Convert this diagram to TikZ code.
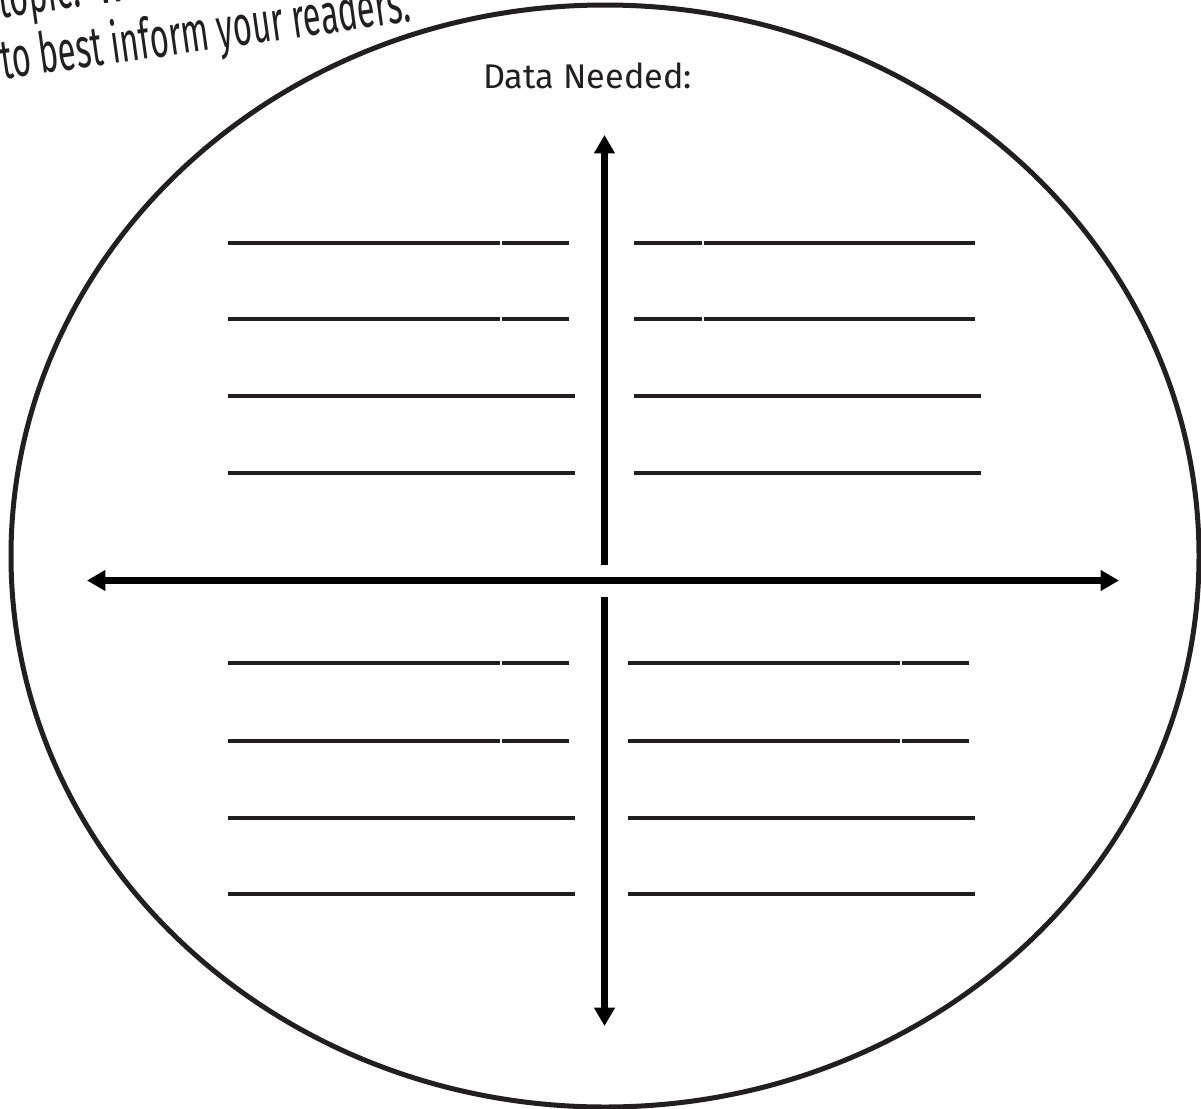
\documentclass[tikz,border=0pt]{standalone}
\usepackage{fontspec}
\setmainfont{Fira Sans}
\newfontfamily\handfont[FakeStretch=0.58]{Fira Sans}
\usetikzlibrary{arrows.meta}
\definecolor{ink}{HTML}{231F20}

\begin{document}
\begin{tikzpicture}[x=0.02cm,y=-0.02cm,
    >={Triangle[length=0.37cm,width=0.4cm]},
    axis/.style={line width=0.14cm},
    rule/.style={ink,line width=0.08cm},
    hint/.style={anchor=base west,rotate=8,text=ink,
      font=\handfont\fontsize{32}{40}\selectfont}]
  \useasboundingbox (0,0) rectangle (1201,1109);
  % outer ring
  \draw[ink,line width=0.1cm] (605,556) ellipse [x radius=594,y radius=551];
  % cut-off instructions (top left)
  \node[hint] (hinta) at (-6,19) {topic.\ \ W};
  \node[hint] (hintb) at (-3,80) {to best inform your readers.};
  % heading
  \node[anchor=base,text=ink,font=\fontsize{19.5}{24}\selectfont] (title) at (587.5,88) {Data Needed:};
  % axis end points
  \coordinate (west) at (87,580.5);
  \coordinate (east) at (1119,580.5);
  \coordinate (north) at (604.5,135);
  \coordinate (gapn) at (604.5,565);
  \coordinate (gaps) at (604.5,597);
  \coordinate (south) at (604.5,1026);
  \draw[axis,<->] (west) -- (east);
  \draw[axis,->] (gapn) -- (north);
  \draw[axis,->] (gaps) -- (south);
  % writing rules, left half
  \foreach \y in {243,319,663,741} {
    \draw[rule] (228,\y) -- (500,\y);
    \draw[rule] (501.5,\y) -- (569,\y);
  }
  \foreach \y in {396,473,818,894}
    \draw[rule] (228,\y) -- (575,\y);
  % writing rules, upper right
  \foreach \y in {243,319} {
    \draw[rule] (634,\y) -- (702,\y);
    \draw[rule] (703.5,\y) -- (975,\y);
  }
  \foreach \y in {396,473}
    \draw[rule] (634,\y) -- (981,\y);
  % writing rules, lower right
  \foreach \y in {663,741} {
    \draw[rule] (628,\y) -- (900,\y);
    \draw[rule] (901.5,\y) -- (969,\y);
  }
  \foreach \y in {818,894}
    \draw[rule] (628,\y) -- (975,\y);
\end{tikzpicture}
\end{document}
